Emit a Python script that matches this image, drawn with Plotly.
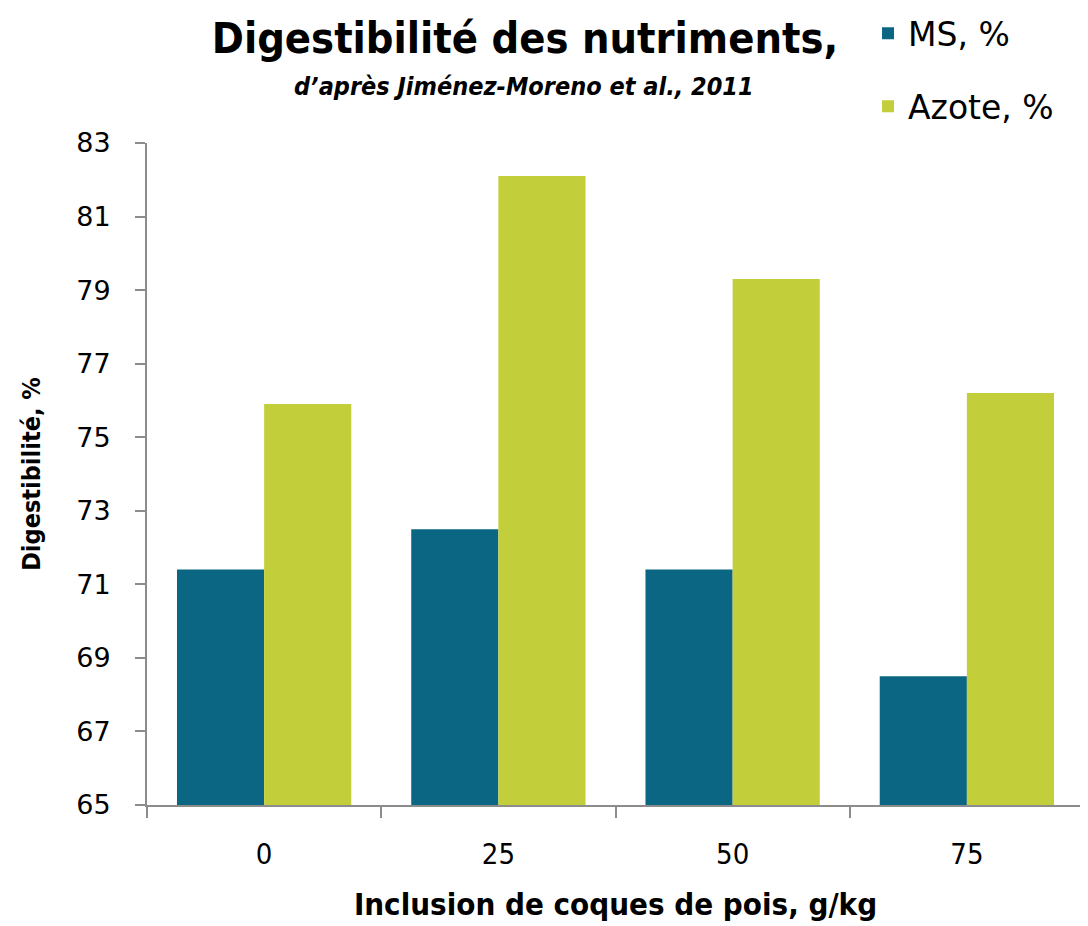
import plotly.graph_objects as go

categories = ["0", "25", "50", "75"]
ms_values = [71.4, 72.5, 71.4, 68.5]
azote_values = [75.9, 82.1, 79.3, 76.2]
y_ticks = [65, 67, 69, 71, 73, 75, 77, 79, 81, 83]

NARROW = "Liberation Sans Narrow, DejaVu Sans Condensed, Arial Narrow, sans-serif"
x_pos = list(range(len(categories)))

fig = go.Figure()
fig.add_trace(go.Bar(x=x_pos, y=ms_values, name="MS, %", marker_color="#0B6683",
                     marker_line_width=0, legendgroup="a"))
fig.add_trace(go.Bar(x=x_pos, y=azote_values, name="Azote, %", marker_color="#C3CF3A",
                     marker_line_width=0, legendgroup="b"))

L, T, PW, PH = 139, 135, 937, 662

fig.update_layout(
    width=1088, height=926,
    margin=dict(l=L, r=1088 - L - PW, t=T, b=926 - T - PH, autoexpand=False),
    paper_bgcolor="white", plot_bgcolor="white",
    barmode="group", bargap=0.256, bargroupgap=0,
    showlegend=True,
    legend=dict(x=0.7695, y=1.208, xanchor="left", yanchor="top",
                font=dict(family="DejaVu Sans", size=33, color="black"),
                tracegroupgap=27, itemsizing="constant"),
    xaxis=dict(
        range=[-0.5, len(categories) - 0.5],
        tickmode="array", tickvals=x_pos, ticktext=categories,
        ticks="outside", ticklen=0,
        tickfont=dict(family=NARROW, size=29, color="black"),
        ticklabelstandoff=22,
        showline=True, linecolor="#8c8c8c", linewidth=2,
        showgrid=False, zeroline=False,
        minor=dict(tickmode="linear", tick0=-0.5, dtick=1, ticks="outside",
                   ticklen=11, tickcolor="#8c8c8c", tickwidth=2, showgrid=False),
        title=dict(text="<b>Inclusion de coques de pois, g/kg</b>",
                   font=dict(family=NARROW, size=31, color="black"), standoff=24),
    ),
    yaxis=dict(
        range=[65, 83], tickmode="array", tickvals=y_ticks,
        ticks="outside", ticklen=10, tickcolor="#8c8c8c", tickwidth=2,
        tickfont=dict(family="DejaVu Sans", size=27, color="black"),
        ticklabelstandoff=19,
        showline=True, linecolor="#8c8c8c", linewidth=2,
        showgrid=False, zeroline=False,
        title=dict(text="<b>Digestibilité, %</b>",
                   font=dict(family=NARROW, size=25, color="black"), standoff=28),
    ),
    title=dict(text="<b>Digestibilité des nutriments,</b>",
               font=dict(family=NARROW, size=43, color="black"),
               x=517 / 1088, xanchor="center", y=1 - 30 / 926, yanchor="middle"),
)

fig.add_annotation(text="<b><i>d’après Jiménez-Moreno et al., 2011</i></b>",
                   xref="paper", yref="paper",
                   x=(516 - L) / PW, y=(T + PH - 78) / PH,
                   xanchor="center", yanchor="middle", showarrow=False,
                   font=dict(family=NARROW, size=25, color="black"))

fig.write_html("out.html")
